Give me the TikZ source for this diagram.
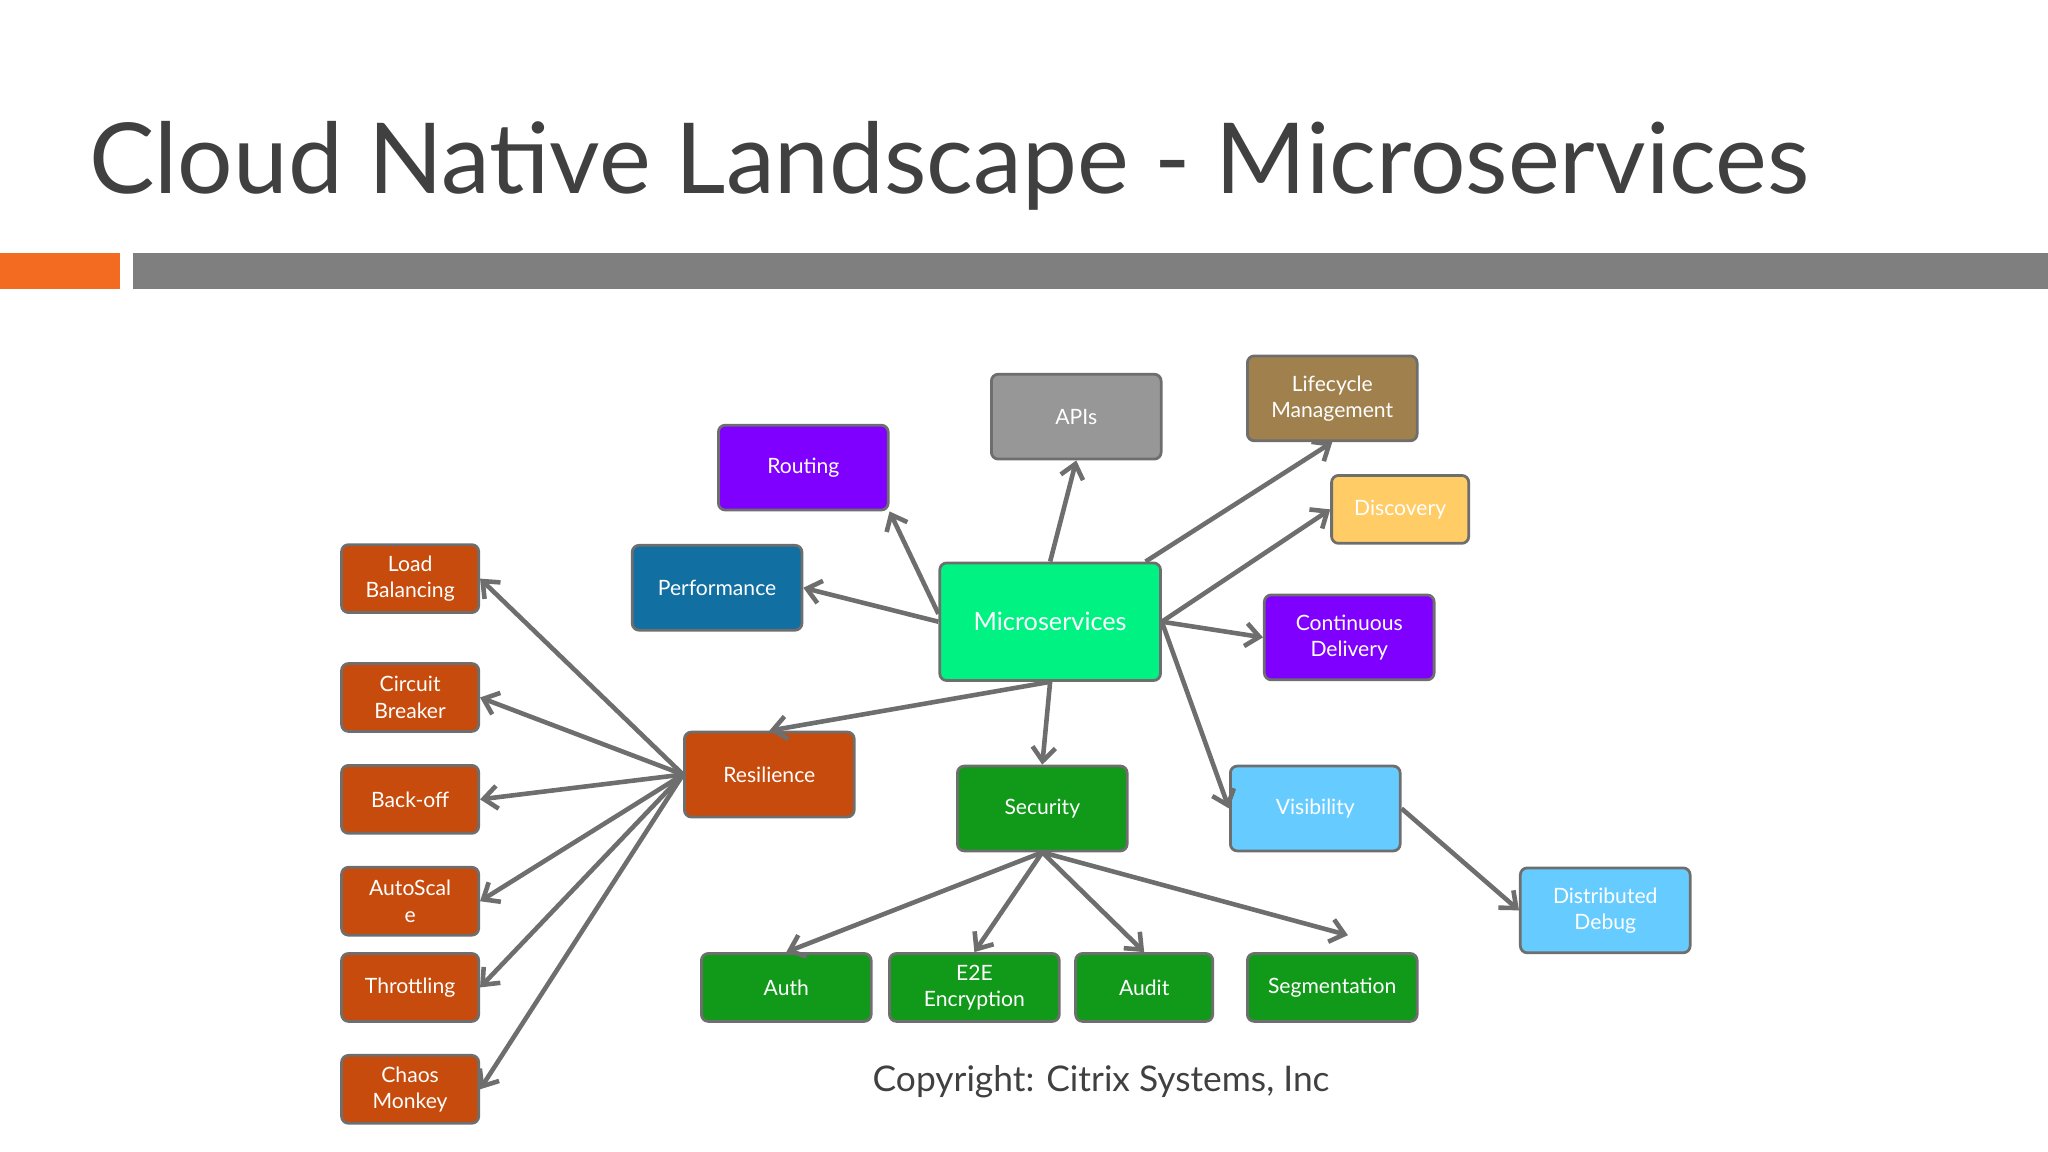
\documentclass[tikz,border=0pt]{standalone}
\usepackage{fontspec}
\setmainfont{Lato}
\usetikzlibrary{arrows.meta,positioning}
\definecolor{titlegrey}{HTML}{404040}
\definecolor{bargrey}{HTML}{7F7F7F}
\definecolor{barorange}{HTML}{F26B21}
\definecolor{linegrey}{HTML}{6E6E6E}
\definecolor{rust}{HTML}{C64B0C}
\definecolor{violet}{HTML}{7F00FF}
\definecolor{apigrey}{HTML}{979797}
\definecolor{lifebrown}{HTML}{A0814E}
\definecolor{disc}{HTML}{FFCC66}
\definecolor{perfteal}{HTML}{116FA1}
\definecolor{msgreen}{HTML}{00F282}
\definecolor{secgreen}{HTML}{11991A}
\definecolor{skyblue}{HTML}{66CCFF}

\begin{document}
\begin{tikzpicture}[
    x=0.02cm, y=-0.02cm,
    box/.style={rectangle, rounded corners=3pt, draw=linegrey, line width=1.2pt, text=white, align=center, font=\fontsize{9.2}{11.5}\selectfont, minimum width=2.6cm, minimum height=1.3cm, inner sep=1pt},
    small/.style={box, minimum width=2.1cm, minimum height=1.04cm},
    arrow/.style={-{Straight Barb[length=6pt,width=10pt]}, line width=2pt, draw=linegrey}
]
\useasboundingbox (0,0) rectangle (1568,882);

% Title and bars
\node[anchor=base west, text=titlegrey, font=\fontsize{42.7}{50}\selectfont, inner sep=0] (title) at (68,148) {Cloud Native Landscape - Microservices};
\fill[barorange] (0,194) rectangle (92,221);
\fill[bargrey] (102,194) rectangle (1568,221);

% Centre
\node[box, fill=msgreen, minimum width=3.38cm, minimum height=1.8cm, font=\fontsize{11}{13}\selectfont] (ms) at (804,476) {Microservices};

% Upper ring
\node[box, fill=violet] (routing) at (615,358) {Routing};
\node[box, fill=apigrey] (apis) at (824,319) {APIs};
\node[box, fill=lifebrown] (lifecycle) at (1020,305) {Lifecycle\\Management};
\node[small, fill=disc] (discovery) at (1072,390) {Discovery};
\node[box, fill=perfteal] (perf) at (549,450) {Performance};
\node[box, fill=violet] (cd) at (1033,488) {Continuous\\Delivery};

% Resilience branch
\node[box, fill=rust] (resil) at (589,593) {Resilience};
\node[small, fill=rust] (lb) at (314,443) {Load\\Balancing};
\node[small, fill=rust] (cb) at (314,534) {Circuit\\Breaker};
\node[small, fill=rust] (backoff) at (314,612) {Back-off};
\node[small, fill=rust] (autoscale) at (314,690) {AutoScal\\e};
\node[small, fill=rust] (throttle) at (314,756) {Throttling};
\node[small, fill=rust] (chaos) at (314,834) {Chaos\\Monkey};

% Security branch
\node[box, fill=secgreen] (sec) at (798,619) {Security};
\node[box, fill=secgreen, minimum height=1.04cm] (auth) at (602,756) {Auth};
\node[box, fill=secgreen, minimum height=1.04cm] (e2e) at (746,756) {E2E\\Encryption};
\node[small, fill=secgreen] (audit) at (876,756) {Audit};
\node[box, fill=secgreen, minimum height=1.04cm] (seg) at (1020,756) {Segmentation};
\coordinate (segend) at (1032,716);

% Visibility branch
\node[box, fill=skyblue] (vis) at (1007,619) {Visibility};
\node[box, fill=skyblue] (ddebug) at (1229,697) {Distributed\\Debug};

\node[text=titlegrey, font=\fontsize{15.4}{18}\selectfont] (copy) at (843,828) {Copyright: Citrix Systems, Inc};

% Arrows from the centre
\draw[arrow] (ms.west |- 0,470) -- (routing.south east);
\draw[arrow] (ms.north) -- (apis.south);
\draw[arrow] ([xshift=-0.25cm]ms.north east) -- (lifecycle.south);
\draw[arrow] (ms.east) -- (discovery.west);
\draw[arrow] (ms.east) -- (cd.west);
\draw[arrow] (ms.west) -- (perf.east);
\draw[arrow] (ms.south) -- (resil.north);
\draw[arrow] (ms.south) -- (sec.north);
\draw[arrow] (ms.east) -- (vis.west);

% Resilience fan
\foreach \t in {lb,cb,backoff,autoscale,throttle,chaos}
    \draw[arrow] (resil.west) -- (\t.east);

% Security fan
\draw[arrow] (sec.south) -- (auth.north);
\draw[arrow] (sec.south) -- (e2e.north);
\draw[arrow] (sec.south) -- (audit.north);
\draw[arrow] (sec.south) -- (segend);

\draw[arrow] (vis.east) -- (ddebug.west);
\end{tikzpicture}
\end{document}
